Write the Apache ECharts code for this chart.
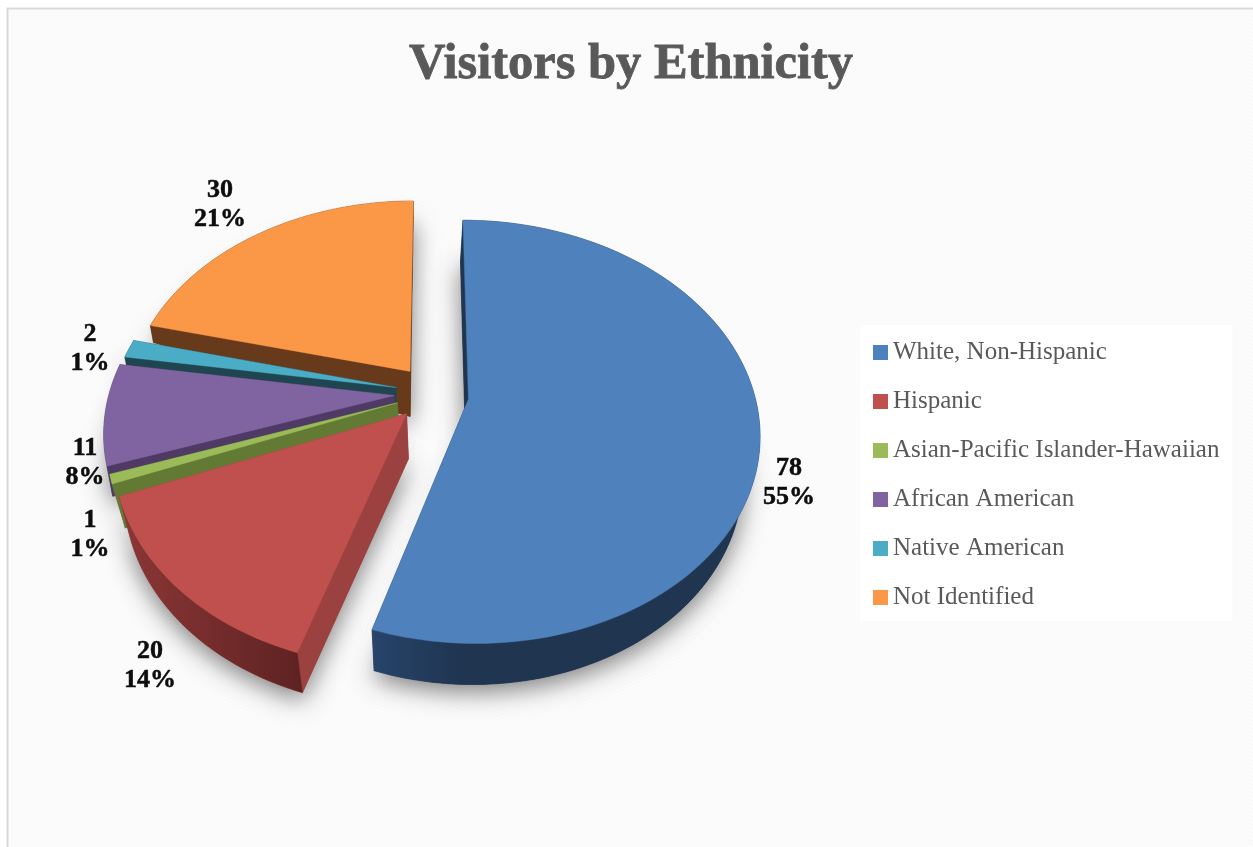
<!DOCTYPE html>
<html>
<head>
<meta charset="utf-8">
<style>html,body{margin:0;padding:0;background:#fff;overflow:hidden}#chart{width:1253px;height:847px}</style>
<script src="https://cdn.jsdelivr.net/npm/echarts@6/dist/echarts.min.js"></script>
</head>
<body>
<div id="chart"></div>
<script>
// Visitor counts per ethnicity group
const categories = ['White, Non-Hispanic', 'Hispanic', 'Asian-Pacific Islander-Hawaiian', 'African American', 'Native American', 'Not Identified'];
const visitorCounts = [78, 20, 1, 11, 2, 30];
const chartTitle = 'Visitors by Ethnicity';

// Slice look, one entry per category
const topColors = ['#4f81bd', '#c0504d', '#9bbb59', '#8064a2', '#4bacc6', '#fb9848'];
const edgeColors = ['#1f3550', '#9b4140', '#637a35', '#4f3a66', '#1f4650', '#663a1a'];
const rimColors = [['#28446b', '#1f3550'], ['#8c3736', '#5c2121'], ['#637a35', '#637a35'], ['#4f3a66', '#4f3a66'], ['#1f4650', '#1f4650'], ['#663a1a', '#663a1a']];
const rimGradientSpan = [90, 190, 60, 60, 60, 60];
const rimDepths = [41, 40, 44, 30, 16, 17];
const apexDepths = [45, 45, 45, 45, 45, 45];
const perspectiveShift = [[0.05, 413], [0.03, 470], [0.037, 470], [0.02, 400], [0.012, 400], [0.012, 410]];
const sliceShift = [[-4, 2], [-0.5, 0], [0, 0], [-1, 0], [0, 0], [-0.5, 0]];
const sliceWiden = [1.007, 1, 1, 1.005, 1, 1];
const labelCenters = [[789, 482.5], [150, 666], [90, 535], [85, 463], [90, 348.5], [220, 204.5]];
const paintOrder = [5, 4, 3, 2, 1, 0];

// Tilted-disc projection shared by every slice
const view = { cx: 434, cy: 393, rx: 283.7, ry: 204.6, persp: 0.1627, explode: 0.1365, startAngle: 0 };
const project = (wx, wy) => {
  const s = 1 / (1 - view.persp * wy);
  return [view.cx + view.rx * wx * s, view.cy + view.ry * wy * s];
};
const rad = d => d * Math.PI / 180;
const total = visitorCounts.reduce((a, b) => a + b, 0);

function sliceAngles(i) {
  const before = visitorCounts.slice(0, i).reduce((a, b) => a + b, 0);
  return [view.startAngle + before / total * 360, view.startAngle + (before + visitorCounts[i]) / total * 360];
}

function sliceGeometry(i) {
  const [a0, a1] = sliceAngles(i);
  const mid = rad((a0 + a1) / 2);
  const ox = view.explode * Math.sin(mid), oy = -view.explode * Math.cos(mid);
  const steps = Math.max(2, Math.ceil((a1 - a0) / 1.5));
  const base = project(ox, oy);
  const [sx, sy] = sliceShift[i];
  const apex = [base[0] + sx, base[1] + sy];
  const rim = [];
  for (let s = 0; s <= steps; s++) {
    const t = rad(a0 + (a1 - a0) * s / steps);
    const p = project(ox + Math.sin(t), oy - Math.cos(t));
    rim.push([base[0] + sx + (p[0] - base[0]) * sliceWiden[i], p[1]]);
  }
  const [k, vx] = perspectiveShift[i];
  const drop = (p, h) => [p[0] + k * (vx - p[0]), p[1] + h];
  const rimLow = rim.map(p => drop(p, rimDepths[i]));
  const apexLow = drop(apex, apexDepths[i]);
  return { rim, rimLow, apex, apexLow };
}

function renderSlice(i) {
  return function () {
    const g = sliceGeometry(i);
    const first = g.rim[0], last = g.rim[g.rim.length - 1];
    const firstLow = g.rimLow[0], lastLow = g.rimLow[g.rimLow.length - 1];
    const poly = (points, fill, extra) => ({
      type: 'polygon',
      shape: { points },
      style: Object.assign({ fill, stroke: fill, lineWidth: 0.4 }, extra || {})
    });
    const left = Math.min(...g.rim.map(p => p[0]));
    const rimFill = new echarts.graphic.LinearGradient(
      left, 0, left + rimGradientSpan[i], 0,
      [{ offset: 0, color: rimColors[i][0] }, { offset: 1, color: rimColors[i][1] }], true);
    const pct = Math.round(visitorCounts[i] / total * 100);
    return {
      type: 'group',
      children: [
        poly([g.apexLow].concat(g.rimLow), edgeColors[i], {
          shadowColor: 'rgba(0,0,0,0.5)', shadowBlur: 24, shadowOffsetX: 0, shadowOffsetY: 7
        }),
        poly([g.apex, last, lastLow, g.apexLow], edgeColors[i]),
        poly([g.apex, first, firstLow, g.apexLow], edgeColors[i]),
        poly(g.rim.concat(g.rimLow.slice().reverse()), rimFill),
        poly([g.apex].concat(g.rim), topColors[i]),
        {
          type: 'text',
          x: labelCenters[i][0],
          y: labelCenters[i][1],
          style: {
            text: visitorCounts[i] + '\n' + pct + '%',
            fill: '#0d0d0d',
            stroke: '#0d0d0d',
            lineWidth: 0.5,
            font: 'bold 26px "Liberation Serif", serif',
            lineHeight: 29,
            align: 'center',
            verticalAlign: 'middle'
          }
        }
      ]
    };
  };
}

// Fine woven texture of the chart area
const weave = document.createElement('canvas');
weave.width = weave.height = 4;
(function () {
  const c = weave.getContext('2d');
  c.fillStyle = '#fcfcfc';
  c.fillRect(0, 0, 4, 4);
  c.fillStyle = '#f7f7f7';
  [[0, 0], [1, 3], [2, 2], [3, 1]].forEach(p => c.fillRect(p[0], p[1], 1, 1));
})();

const chart = echarts.init(document.getElementById('chart'));
chart.setOption({
  animation: false,
  backgroundColor: '#ffffff',
  graphic: [{
    type: 'rect',
    z: -10,
    silent: true,
    shape: { x: 7.5, y: 8.5, width: 1300, height: 900 },
    style: { fill: { image: weave, repeat: 'repeat' }, stroke: '#d9d9d9', lineWidth: 2 }
  }],
  title: {
    text: chartTitle,
    left: 626,
    top: 34,
    textAlign: 'center',
    textStyle: {
      color: '#595959', fontFamily: '"Liberation Serif", serif', fontWeight: 'bold', fontSize: 50.5,
      textBorderColor: '#595959', textBorderWidth: 0.8
    }
  },
  legend: {
    orient: 'vertical',
    left: 860,
    top: 325,
    padding: [15, 13, 11, 13],
    backgroundColor: '#ffffff',
    itemWidth: 15,
    itemHeight: 15,
    itemGap: 24,
    icon: 'rect',
    data: categories,
    selectedMode: false,
    textStyle: { color: '#595959', fontFamily: '"Liberation Serif", serif', fontSize: 25 }
  },
  series: paintOrder.map((i, order) => ({
    type: 'custom',
    name: categories[i],
    coordinateSystem: 'none',
    silent: true,
    z: 2 + order,
    itemStyle: { color: topColors[i] },
    data: [[visitorCounts[i]]],
    renderItem: renderSlice(i)
  }))
});
</script>
</body>
</html>
